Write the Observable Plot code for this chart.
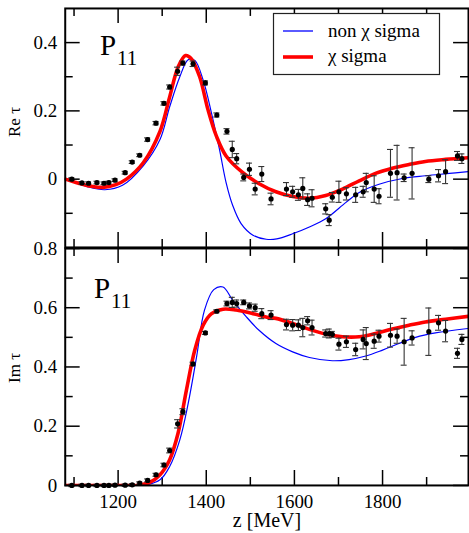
<!DOCTYPE html>
<html><head><meta charset="utf-8">
<script src="https://cdn.jsdelivr.net/npm/d3@7"></script>
<script src="https://cdn.jsdelivr.net/npm/@observablehq/plot@0.6"></script>
<style>
body{margin:0;background:#fff;}
#wrap{position:relative;width:469px;height:533px;overflow:hidden;background:#fff;font-family:'Liberation Serif';}
#wrap svg{position:absolute;left:0;}
#wrap svg text{font-family:'Liberation Serif';}
</style></head><body><div id="wrap"></div>
<script>
// ---------- data ----------
const zPts = [1095,1118,1133,1152,1168,1179,1193,1216,1232,1249,1267,1286,1304,1317,1335,1347,1370,1398,1424,1447,1459,1469,1485,1498,1511,1526,1547,1582,1596,1609,1619,1630,1640,1671,1679,1686,1701,1718,1739,1756,1763,1781,1792,1818,1833,1849,1867,1905,1927,1943,1970,1980];
const reVal = [0,-0.011,-0.012,-0.01,-0.012,-0.01,-0.003,0.019,0.05,0.07,0.116,0.164,0.222,0.27,0.316,0.34,0.338,0.282,0.188,0.14,0.087,0.06,0.005,0.029,-0.029,0.015,-0.058,-0.029,-0.037,-0.046,-0.027,-0.06,-0.056,-0.087,-0.12,-0.053,-0.037,-0.043,-0.046,-0.037,-0.01,-0.029,-0.05,0.017,0.019,0.004,0.017,0,0.01,0.022,0.068,0.06];
const reErr = [0.004,0.004,0.004,0.004,0.004,0.004,0.004,0.004,0.004,0.004,0.005,0.005,0.005,0.006,0.012,0.006,0.008,0.006,0.006,0.008,0.024,0.015,0.01,0.018,0.017,0.022,0.017,0.019,0.016,0.016,0.031,0.017,0.025,0.015,0.016,0.014,0.031,0.018,0.022,0.016,0.027,0.039,0.022,0.07,0.08,0.011,0.075,0.01,0.018,0.035,0.013,0.014];
const imVal = [0,0,0,0,0,0,0.001,0.001,0.002,0.008,0.017,0.036,0.069,0.118,0.208,0.249,0.41,0.515,0.588,0.614,0.618,0.614,0.618,0.606,0.6,0.58,0.575,0.543,0.541,0.541,0.533,0.556,0.533,0.513,0.513,0.51,0.477,0.485,0.459,0.493,0.479,0.487,0.504,0.507,0.504,0.485,0.498,0.519,0.549,0.521,0.446,0.493];
const imErr = [0.004,0.004,0.004,0.004,0.004,0.004,0.004,0.004,0.004,0.004,0.005,0.005,0.006,0.008,0.014,0.01,0.006,0.005,0.005,0.008,0.017,0.012,0.008,0.01,0.012,0.017,0.015,0.018,0.019,0.018,0.031,0.014,0.025,0.012,0.015,0.01,0.02,0.019,0.021,0.032,0.054,0.024,0.02,0.04,0.024,0.079,0.024,0.08,0.025,0.036,0.017,0.017];

// non chiral sigma (blue) and chiral sigma (red) curves
const reBlueZ = [1080,1100,1130,1170,1210,1257,1295,1317,1340,1359,1374,1393,1412,1430,1445,1460,1479,1506,1536,1560,1596,1634,1671,1717,1747,1792,1845,1897,1945,1995];
const reBlueV = [0,-0.008,-0.022,-0.031,-0.018,0.039,0.116,0.212,0.3,0.35,0.348,0.29,0.193,0.087,-0.01,-0.077,-0.13,-0.164,-0.176,-0.175,-0.16,-0.14,-0.116,-0.068,-0.039,-0.015,0.002,0.01,0.016,0.022];
const reRedZ = [1080,1110,1140,1165,1195,1219,1257,1295,1317,1336,1353,1366,1385,1404,1423,1445,1483,1521,1558,1596,1634,1671,1709,1747,1784,1822,1860,1897,1943,1995];
const reRedV = [0,-0.012,-0.021,-0.024,-0.016,0,0.048,0.14,0.241,0.328,0.362,0.353,0.3,0.203,0.126,0.068,0.019,-0.014,-0.037,-0.051,-0.056,-0.048,-0.029,-0.005,0.017,0.032,0.043,0.052,0.058,0.063];
const imBlueZ = [1080,1200,1257,1295,1317,1340,1359,1378,1396,1417,1438,1460,1491,1521,1558,1596,1634,1686,1724,1762,1800,1837,1875,1920,1995];
const imBlueV = [0,0,0,0.019,0.064,0.154,0.277,0.434,0.592,0.661,0.67,0.625,0.569,0.522,0.479,0.451,0.432,0.421,0.425,0.437,0.457,0.479,0.5,0.515,0.53];
const imRedZ = [1080,1200,1242,1272,1295,1317,1336,1355,1374,1393,1412,1438,1468,1506,1541,1558,1596,1634,1671,1709,1747,1784,1822,1860,1897,1943,1995];
const imRedV = [0,0,0,0.01,0.036,0.087,0.176,0.322,0.457,0.541,0.58,0.595,0.592,0.58,0.567,0.564,0.547,0.527,0.511,0.502,0.502,0.513,0.528,0.541,0.552,0.561,0.571];

const xDomain = [1080, 1995];
const xMajor = [1200,1400,1600,1800];
const xMinor = [1100,1300,1500,1700,1900];
const reDomain = [-0.2, 0.5];
const reMajor = [0,0.2,0.4];
const reMinor = [-0.1,0.1,0.3];
const imDomain = [0, 0.8];
const imMajor = [0,0.2,0.4,0.6,0.8];
const imMinor = [0.1,0.3,0.5,0.7];
const legendLabels = ["non \u03c7 sigma", "\u03c7 sigma"];

// ---------- drawing ----------
const FONT = "Liberation Serif";
const W = 471, ML = 65, MR = 1;
const innerW = W - ML - MR;

function panel(o) {
  const innerH = o.height - o.mt - o.mb;
  const pts = zPts.map((z,i)=>({z, v:o.v[i], e:o.e[i]}));
  const blue = o.bz.map((z,i)=>({z, v:o.bv[i]}));
  const red = o.rz.map((z,i)=>({z, v:o.rv[i]}));
  const tk = {stroke:"black", strokeWidth:1.5};
  const eb = {stroke:"#333", strokeWidth:1.1};
  const marks = [
    Plot.tickY(o.major, {y:d=>d, insetRight: innerW-15, ...tk}),
    Plot.tickY(o.minor, {y:d=>d, insetRight: innerW-8, ...tk}),
    Plot.tickY(o.major, {y:d=>d, insetLeft: innerW-15, ...tk}),
    Plot.tickY(o.minor, {y:d=>d, insetLeft: innerW-8, ...tk}),
    Plot.tickX(xMajor, {x:d=>d, insetTop: innerH-15, ...tk}),
    Plot.tickX(xMinor, {x:d=>d, insetTop: innerH-8, ...tk}),
    Plot.tickX(xMajor, {x:d=>d, insetBottom: innerH-15, ...tk}),
    Plot.tickX(xMinor, {x:d=>d, insetBottom: innerH-8, ...tk}),
    Plot.line(blue, {x:"z", y:"v", stroke:"#0000ff", strokeWidth:1.2, curve:"catmull-rom", clip:true}),
    Plot.line(red, {x:"z", y:"v", stroke:"#ff0000", strokeWidth:3.6, curve:"catmull-rom", clip:true}),
    Plot.ruleX(pts, {x:"z", y1:d=>d.v-d.e, y2:d=>d.v+d.e, ...eb}),
    Plot.ruleY(pts, {y:d=>d.v+d.e, x1:"z", x2:"z", insetLeft:-3, insetRight:-3, ...eb}),
    Plot.ruleY(pts, {y:d=>d.v-d.e, x1:"z", x2:"z", insetLeft:-3, insetRight:-3, ...eb}),
    Plot.dot(pts, {x:"z", y:"v", r:2.6, fill:"black", stroke:null}),
    Plot.frame({stroke:"black", strokeWidth:2}),
    Plot.axisY(o.labels, {tickSize:0, tickPadding:8, label:null, tickFormat:d=>d===0?"0":d.toFixed(1), fontSize:19, fontFamily:FONT})
  ];
  if (o.xAxis) marks.push(Plot.axisX(xMajor, {tickSize:0, tickPadding:9, label:null, tickFormat:d=>String(d), fontSize:19, fontFamily:FONT}));
  const p = Plot.plot({
    width: W, height: o.height,
    marginLeft: ML, marginRight: MR, marginTop: o.mt, marginBottom: o.mb,
    x: {domain: xDomain, axis: o.xAxis ? undefined : null},
    y: {domain: o.domain},
    style: {fontFamily: FONT, fontSize:"19px", background:"transparent", color:"black", overflow:"visible"},
    marks
  });
  p.setAttribute("font-family", FONT);
  p.style.top = o.top + "px";
  return p;
}

const wrap = document.getElementById("wrap");
wrap.appendChild(panel({top:0, height:249, mt:8, mb:1, domain:reDomain, major:reMajor, minor:reMinor, labels:reMajor,
  v:reVal, e:reErr, bz:reBlueZ, bv:reBlueV, rz:reRedZ, rv:reRedV, xAxis:false}));
wrap.appendChild(panel({top:240, height:293, mt:8, mb:47, domain:imDomain, major:imMajor, minor:imMinor, labels:imMajor,
  v:imVal, e:imErr, bz:imBlueZ, bv:imBlueV, rz:imRedZ, rv:imRedV, xAxis:true}));

// ---------- text overlay & legend ----------
const ov = d3.select(wrap).append("svg").attr("width",469).attr("height",533).style("top","0px")
  .style("pointer-events","none");
function txt(x, y, s, size, extra) {
  const t = ov.append("text").attr("x",x).attr("y",y).attr("font-family",FONT).attr("font-size",size).text(s);
  if (extra) extra(t);
  return t;
}
ov.append("text").attr("transform","translate(20,122) rotate(-90)").attr("text-anchor","middle").attr("font-family",FONT).attr("font-size",17).text("Re \u03c4");
ov.append("text").attr("transform","translate(20,368) rotate(-90)").attr("text-anchor","middle").attr("font-family",FONT).attr("font-size",17).text("Im \u03c4");
txt(267, 527, "z [MeV]", 20, t=>t.attr("text-anchor","middle"));
txt(100, 55, "P", 29);
txt(117, 65, "11", 21);
txt(94, 298, "P", 29);
txt(111, 308, "11", 21);
ov.append("rect").attr("x",273.5).attr("y",13.5).attr("width",166).attr("height",61).attr("fill","white").attr("stroke","#222").attr("stroke-width",1.2);
ov.append("line").attr("x1",283).attr("x2",313).attr("y1",31).attr("y2",31).attr("stroke","#0000ff").attr("stroke-width",1.3);
ov.append("line").attr("x1",283).attr("x2",313).attr("y1",57).attr("y2",57).attr("stroke","#ff0000").attr("stroke-width",3.6);
txt(328, 37, legendLabels[0], 19);
txt(328, 62, legendLabels[1], 19);
</script></body></html>
